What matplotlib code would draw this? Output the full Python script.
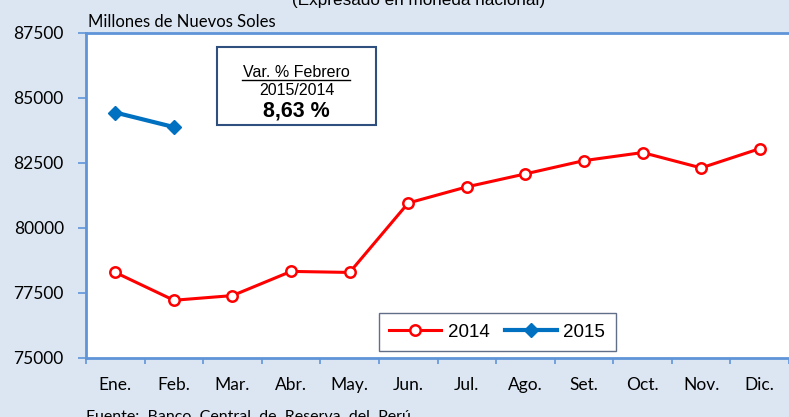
import matplotlib
matplotlib.use("Agg")
from matplotlib import pyplot as plt
from matplotlib.patches import Rectangle
import numpy as np

meses = ["Ene.", "Feb.", "Mar.", "Abr.", "May.", "Jun.", "Jul.", "Ago.",
         "Set.", "Oct.", "Nov.", "Dic."]
v2014 = [78290, 77220, 77400, 78330, 78290, 80960, 81580, 82080,
         82590, 82900, 82310, 83050]
v2015 = [84440, 83880]
yticks = [75000, 77500, 80000, 82500, 85000, 87500]

bg = "#dce6f2"
azul_eje = "#5f95d8"

fig = plt.figure(figsize=(7.89, 4.17), dpi=100, facecolor=bg)
ax = fig.add_axes([0.109, 0.1415, 0.891, 0.7795])
ax.set_facecolor("white")

x = np.arange(len(meses))
ax.plot(x, v2014, "-o", color="#ff0000", lw=2.2, ms=7.5, mfc="white",
        mec="#ff0000", mew=1.8, label="2014", zorder=3)
ax.plot(x[:len(v2015)], v2015, "-D", color="#0070c0", lw=3, ms=7,
        mfc="#0070c0", mec="#0070c0", label="2015", zorder=3)

ax.set_xlim(-0.5, 11.5)
ax.set_ylim(75000, 87500)
ax.set_yticks(yticks)
ax.set_yticklabels([str(t) for t in yticks], fontsize=12.5, family="Lato")
ax.set_xticks(x)
ax.set_xticklabels(meses, fontsize=12.5, family="Lato")
ax.set_xticks(np.arange(-0.5, 12, 1), minor=True)
ax.tick_params(axis="x", which="major", length=0, pad=14)
ax.tick_params(axis="x", which="minor", length=4, color=azul_eje, width=1.2)
ax.tick_params(axis="y", length=6, color=azul_eje, width=1.2, pad=10)

for s in ["left", "top", "bottom"]:
    ax.spines[s].set_color(azul_eje)
    ax.spines[s].set_linewidth(2)
ax.spines["right"].set_visible(False)

leg = ax.legend(loc="lower left", bbox_to_anchor=(0.417, 0.022), ncol=2,
                frameon=True, fancybox=False, edgecolor="#3a4a6a",
                prop={"family": "Liberation Sans", "size": 13.5},
                handlelength=2.75, columnspacing=0.85, borderpad=0.55,
                borderaxespad=0, handletextpad=0.35)
leg.get_frame().set_linewidth(1)

# caja de variacion
ax.add_patch(Rectangle((0.186, 0.717), 0.2265, 0.24, transform=ax.transAxes,
                       fc="white", ec="#2f4f7f", lw=1.5, zorder=4))
cx = 0.2994
ax.text(cx, 0.8646, "Var. % Febrero", transform=ax.transAxes, ha="center",
        va="baseline", fontsize=11.5, family="Liberation Sans", zorder=5)
ax.plot([0.222, 0.376], [0.856, 0.856], transform=ax.transAxes,
        color="black", lw=1, zorder=5)
ax.text(cx, 0.809, "2015/2014", transform=ax.transAxes, ha="center",
        va="baseline", fontsize=11.5, family="Liberation Sans", zorder=5)
ax.text(cx, 0.7415, "8,63 %", transform=ax.transAxes, ha="center",
        va="baseline", fontsize=15.5, fontweight="bold",
        family="Liberation Sans", zorder=5)

fig.text(0.112, 0.935, "Millones de Nuevos Soles", fontsize=12, family="Lato")
fig.text(0.53, 1.0, "(Expresado en moneda nacional)", ha="center",
         va="center", fontsize=12.3, family="Liberation Sans")
fig.text(0.109, 0.0, "Fuente:  Banco  Central  de  Reserva  del  Perú.",
         fontsize=11.5, family="Lato", va="center")

fig.savefig("out.png", dpi=100, facecolor=bg)
